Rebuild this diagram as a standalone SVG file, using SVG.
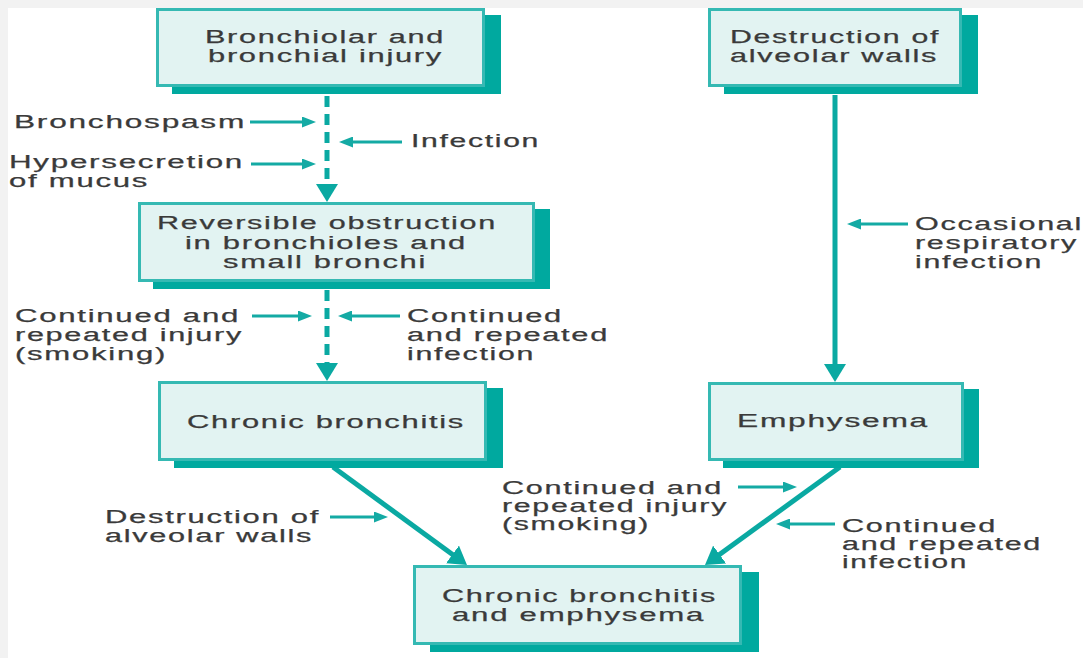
<svg xmlns="http://www.w3.org/2000/svg" width="1083" height="658" viewBox="0 0 1083 658">
<style>
.sh{fill:#00a99f}
.bx{fill:#e2f3f2;stroke:#35b9b3;stroke-width:3}
.t{font-family:"Liberation Sans",Arial,sans-serif;font-size:18px;fill:#3a3a3a;letter-spacing:1px;stroke:#3a3a3a;stroke-width:0.25}
.main{stroke:#0aa9a2;stroke-width:5;fill:none}
.dash{stroke-dasharray:11 7}
.side{stroke:#14aaa4;stroke-width:3;fill:none}
</style>
<defs>
<marker id="big" markerUnits="userSpaceOnUse" markerWidth="18" markerHeight="22" refX="6" refY="11" orient="auto"><path d="M0,0 L18,11 L0,22 z" fill="#0aa9a2"/></marker>
<marker id="small" markerUnits="userSpaceOnUse" markerWidth="14" markerHeight="11" refX="4" refY="5.5" orient="auto"><path d="M0,0 L14,5.5 L0,11 z" fill="#14aaa4"/></marker>
</defs>
<rect x="0" y="0" width="1083" height="658" fill="#f2f2f2"/>
<rect x="8" y="8" width="1075" height="650" fill="#ffffff"/>

<g id="connectors">
<path class="main dash" d="M327,96 L327,190" marker-end="url(#big)"/>
<path class="main dash" d="M327,290 L327,369" marker-end="url(#big)"/>
<path class="main" d="M835,95 L835,370" marker-end="url(#big)"/>
<path class="main" d="M333,467 L457.3,558" marker-end="url(#big)"/>
<path class="main" d="M840,467 L714.7,558" marker-end="url(#big)"/>
<path class="side" d="M250,122 L306,122" marker-end="url(#small)"/>
<path class="side" d="M402,142 L349,142" marker-end="url(#small)"/>
<path class="side" d="M251,164 L306,164" marker-end="url(#small)"/>
<path class="side" d="M252,316 L302,316" marker-end="url(#small)"/>
<path class="side" d="M400,316 L348,316" marker-end="url(#small)"/>
<path class="side" d="M908,224 L857,224" marker-end="url(#small)"/>
<path class="side" d="M330,517 L378,517" marker-end="url(#small)"/>
<path class="side" d="M738,487 L787,487" marker-end="url(#small)"/>
<path class="side" d="M835,524 L786,524" marker-end="url(#small)"/>
</g>

<g id="labels">
<text class="t" x="14" y="128" textLength="232" lengthAdjust="spacingAndGlyphs">Bronchospasm</text>
<text class="t" x="411" y="147" textLength="129" lengthAdjust="spacingAndGlyphs">Infection</text>
<text class="t" x="9" y="168" textLength="235" lengthAdjust="spacingAndGlyphs">Hypersecretion</text>
<text class="t" x="9" y="187" textLength="140" lengthAdjust="spacingAndGlyphs">of mucus</text>
<text class="t" x="15" y="322" textLength="225" lengthAdjust="spacingAndGlyphs">Continued and</text>
<text class="t" x="15" y="341" textLength="228" lengthAdjust="spacingAndGlyphs">repeated injury</text>
<text class="t" x="15" y="360" textLength="152" lengthAdjust="spacingAndGlyphs">(smoking)</text>
<text class="t" x="407" y="322" textLength="156" lengthAdjust="spacingAndGlyphs">Continued</text>
<text class="t" x="407" y="341" textLength="202" lengthAdjust="spacingAndGlyphs">and repeated</text>
<text class="t" x="407" y="360" textLength="128" lengthAdjust="spacingAndGlyphs">infection</text>
<text class="t" x="915" y="230" textLength="168" lengthAdjust="spacingAndGlyphs">Occasional</text>
<text class="t" x="915" y="249" textLength="163" lengthAdjust="spacingAndGlyphs">respiratory</text>
<text class="t" x="915" y="268" textLength="128" lengthAdjust="spacingAndGlyphs">infection</text>
<text class="t" x="105" y="523" textLength="215" lengthAdjust="spacingAndGlyphs">Destruction of</text>
<text class="t" x="105" y="542" textLength="208" lengthAdjust="spacingAndGlyphs">alveolar walls</text>
<text class="t" x="502" y="494" textLength="221" lengthAdjust="spacingAndGlyphs">Continued and</text>
<text class="t" x="502" y="512" textLength="226" lengthAdjust="spacingAndGlyphs">repeated injury</text>
<text class="t" x="502" y="530" textLength="148" lengthAdjust="spacingAndGlyphs">(smoking)</text>
<text class="t" x="842" y="532" textLength="155" lengthAdjust="spacingAndGlyphs">Continued</text>
<text class="t" x="842" y="550" textLength="200" lengthAdjust="spacingAndGlyphs">and repeated</text>
<text class="t" x="842" y="568" textLength="126" lengthAdjust="spacingAndGlyphs">infection</text>
</g>

<g id="node-bronchial-injury">
<rect class="sh" x="172" y="15" width="329" height="79"/>
<rect class="bx" x="157.5" y="9.5" width="326" height="76"/>
<text class="t" x="205" y="43" textLength="240" lengthAdjust="spacingAndGlyphs">Bronchiolar and</text>
<text class="t" x="208" y="62" textLength="235" lengthAdjust="spacingAndGlyphs">bronchial injury</text>
</g>

<g id="node-destruction-alveolar">
<rect class="sh" x="724" y="15" width="254" height="79"/>
<rect class="bx" x="709.5" y="9.5" width="251" height="76"/>
<text class="t" x="730" y="43" textLength="210" lengthAdjust="spacingAndGlyphs">Destruction of</text>
<text class="t" x="730" y="62" textLength="208" lengthAdjust="spacingAndGlyphs">alveolar walls</text>
</g>

<g id="node-reversible-obstruction">
<rect class="sh" x="153" y="209" width="397" height="80"/>
<rect class="bx" x="139.5" y="203.5" width="394" height="77"/>
<text class="t" x="157" y="229" textLength="340" lengthAdjust="spacingAndGlyphs">Reversible obstruction</text>
<text class="t" x="185" y="248.5" textLength="282" lengthAdjust="spacingAndGlyphs">in bronchioles and</text>
<text class="t" x="223" y="268" textLength="204" lengthAdjust="spacingAndGlyphs">small bronchi</text>
</g>

<g id="node-chronic-bronchitis">
<rect class="sh" x="174" y="388" width="329" height="80"/>
<rect class="bx" x="159.5" y="382.5" width="326" height="77"/>
<text class="t" x="187" y="428" textLength="278" lengthAdjust="spacingAndGlyphs">Chronic bronchitis</text>
</g>

<g id="node-emphysema">
<rect class="sh" x="723" y="389" width="256" height="79"/>
<rect class="bx" x="709.5" y="383.5" width="253" height="76"/>
<text class="t" x="737" y="427" textLength="192" lengthAdjust="spacingAndGlyphs">Emphysema</text>
</g>

<g id="node-chronic-bronchitis-emphysema">
<rect class="sh" x="430" y="572" width="329" height="80"/>
<rect class="bx" x="414.5" y="566.5" width="326" height="77"/>
<text class="t" x="442" y="602" textLength="275" lengthAdjust="spacingAndGlyphs">Chronic bronchitis</text>
<text class="t" x="452" y="621" textLength="253" lengthAdjust="spacingAndGlyphs">and emphysema</text>
</g>
</svg>
